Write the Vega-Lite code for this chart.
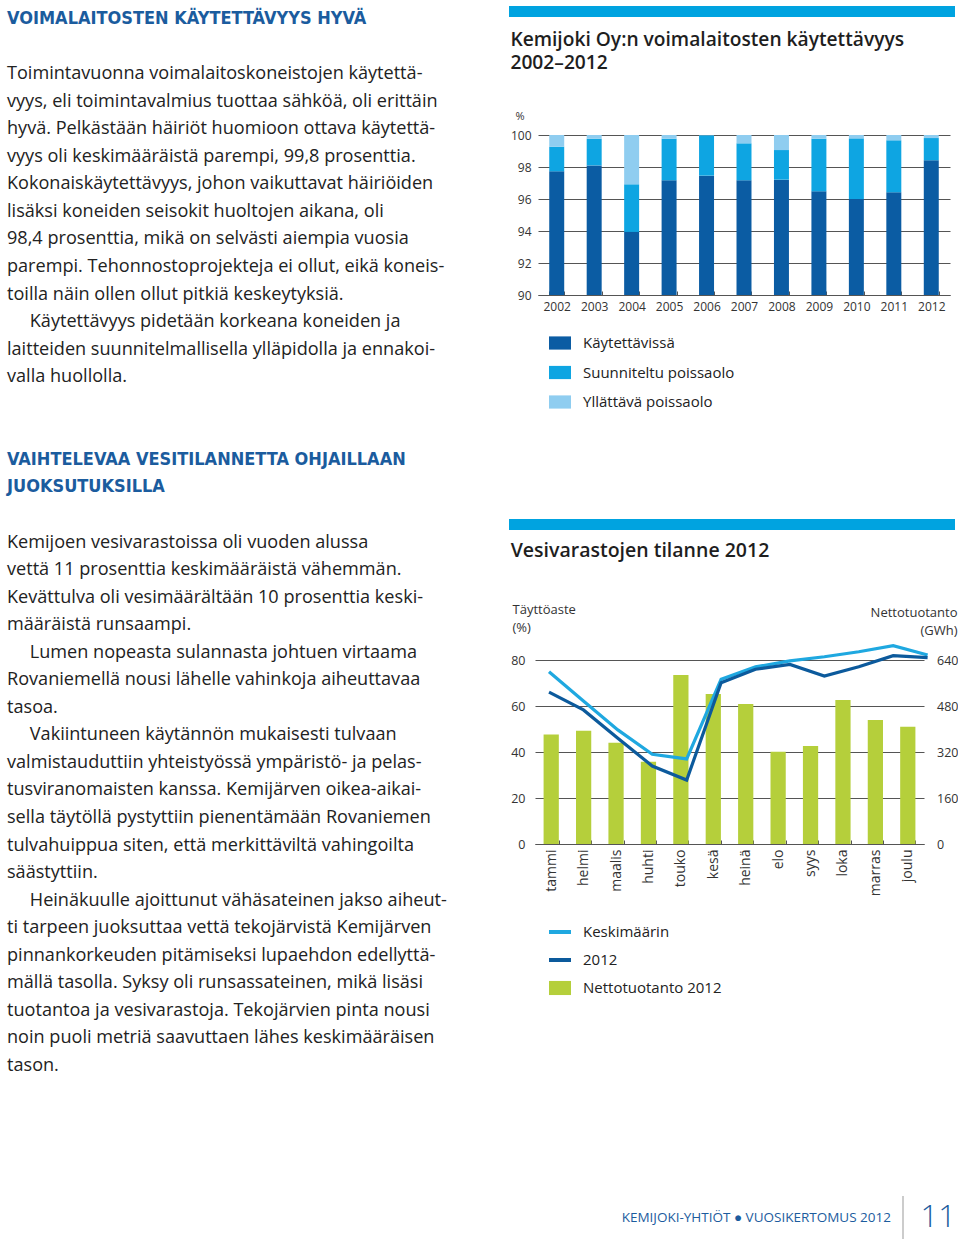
{
  "$schema": "https://vega.github.io/schema/vega-lite/v6.json",
  "background": "white",
  "padding": {"left": 7, "top": 6, "right": 0, "bottom": 0},
  "config": {
    "font": "Open Sans",
    "view": {"stroke": null},
    "axis": {"labelFont": "Open Sans", "titleFont": "Open Sans", "labelColor": "#333", "titleColor": "#333"},
    "legend": {"labelFont": "Open Sans"},
    "title": {"font": "Open Sans", "color": "#1e1e1e"},
    "text": {"font": "Open Sans"}
  },
  "datasets": {
    "text": [
      {"line": 0, "role": "heading", "text": "VOIMALAITOSTEN KÄYTETTÄVYYS HYVÄ"},
      {"line": 2, "role": "body", "text": "Toimintavuonna voimalaitoskoneistojen käytettä-"},
      {"line": 3, "role": "body", "text": "vyys, eli toimintavalmius tuottaa sähköä, oli erittäin"},
      {"line": 4, "role": "body", "text": "hyvä. Pelkästään häiriöt huomioon ottava käytettä-"},
      {"line": 5, "role": "body", "text": "vyys oli keskimääräistä parempi, 99,8 prosenttia."},
      {"line": 6, "role": "body", "text": "Kokonaiskäytettävyys, johon vaikuttavat häiriöiden"},
      {"line": 7, "role": "body", "text": "lisäksi koneiden seisokit huoltojen aikana, oli"},
      {"line": 8, "role": "body", "text": "98,4 prosenttia, mikä on selvästi aiempia vuosia"},
      {"line": 9, "role": "body", "text": "parempi. Tehonnostoprojekteja ei ollut, eikä koneis-"},
      {"line": 10, "role": "body", "text": "toilla näin ollen ollut pitkiä keskeytyksiä."},
      {"line": 11, "role": "body", "text": "\u200d\u2003\u00a0Käytettävyys pidetään korkeana koneiden ja"},
      {"line": 12, "role": "body", "text": "laitteiden suunnitelmallisella ylläpidolla ja ennakoi-"},
      {"line": 13, "role": "body", "text": "valla huollolla."},
      {"line": 16, "role": "heading", "text": "VAIHTELEVAA VESITILANNETTA OHJAILLAAN"},
      {"line": 17, "role": "heading", "text": "JUOKSUTUKSILLA"},
      {"line": 19, "role": "body", "text": "Kemijoen vesivarastoissa oli vuoden alussa"},
      {"line": 20, "role": "body", "text": "vettä 11 prosenttia keskimääräistä vähemmän."},
      {"line": 21, "role": "body", "text": "Kevättulva oli vesimäärältään 10 prosenttia keski-"},
      {"line": 22, "role": "body", "text": "määräistä runsaampi."},
      {"line": 23, "role": "body", "text": "\u200d\u2003\u00a0Lumen nopeasta sulannasta johtuen virtaama"},
      {"line": 24, "role": "body", "text": "Rovaniemellä nousi lähelle vahinkoja aiheuttavaa"},
      {"line": 25, "role": "body", "text": "tasoa."},
      {"line": 26, "role": "body", "text": "\u200d\u2003\u00a0Vakiintuneen käytännön mukaisesti tulvaan"},
      {"line": 27, "role": "body", "text": "valmistauduttiin yhteistyössä ympäristö- ja pelas-"},
      {"line": 28, "role": "body", "text": "tusviranomaisten kanssa. Kemijärven oikea-aikai-"},
      {"line": 29, "role": "body", "text": "sella täytöllä pystyttiin pienentämään Rovaniemen"},
      {"line": 30, "role": "body", "text": "tulvahuippua siten, että merkittäviltä vahingoilta"},
      {"line": 31, "role": "body", "text": "säästyttiin."},
      {"line": 32, "role": "body", "text": "\u200d\u2003\u00a0Heinäkuulle ajoittunut vähäsateinen jakso aiheut-"},
      {"line": 33, "role": "body", "text": "ti tarpeen juoksuttaa vettä tekojärvistä Kemijärven"},
      {"line": 34, "role": "body", "text": "pinnankorkeuden pitämiseksi lupaehdon edellyttä-"},
      {"line": 35, "role": "body", "text": "mällä tasolla. Syksy oli runsassateinen, mikä lisäsi"},
      {"line": 36, "role": "body", "text": "tuotantoa ja vesivarastoja. Tekojärvien pinta nousi"},
      {"line": 37, "role": "body", "text": "noin puoli metriä saavuttaen lähes keskimääräisen"},
      {"line": 38, "role": "body", "text": "tason."}
    ],
    "availability": [
      {"year": "2002", "state": "Käytettävissä", "share": 97.73},
      {"year": "2002", "state": "Suunniteltu poissaolo", "share": 1.54},
      {"year": "2002", "state": "Yllättävä poissaolo", "share": 0.73},
      {"year": "2003", "state": "Käytettävissä", "share": 98.10},
      {"year": "2003", "state": "Suunniteltu poissaolo", "share": 1.67},
      {"year": "2003", "state": "Yllättävä poissaolo", "share": 0.23},
      {"year": "2004", "state": "Käytettävissä", "share": 93.94},
      {"year": "2004", "state": "Suunniteltu poissaolo", "share": 2.98},
      {"year": "2004", "state": "Yllättävä poissaolo", "share": 3.08},
      {"year": "2005", "state": "Käytettävissä", "share": 97.17},
      {"year": "2005", "state": "Suunniteltu poissaolo", "share": 2.60},
      {"year": "2005", "state": "Yllättävä poissaolo", "share": 0.23},
      {"year": "2006", "state": "Käytettävissä", "share": 97.46},
      {"year": "2006", "state": "Suunniteltu poissaolo", "share": 2.52},
      {"year": "2006", "state": "Yllättävä poissaolo", "share": 0.02},
      {"year": "2007", "state": "Käytettävissä", "share": 97.17},
      {"year": "2007", "state": "Suunniteltu poissaolo", "share": 2.31},
      {"year": "2007", "state": "Yllättävä poissaolo", "share": 0.52},
      {"year": "2008", "state": "Käytettävissä", "share": 97.21},
      {"year": "2008", "state": "Suunniteltu poissaolo", "share": 1.85},
      {"year": "2008", "state": "Yllättävä poissaolo", "share": 0.94},
      {"year": "2009", "state": "Käytettävissä", "share": 96.48},
      {"year": "2009", "state": "Suunniteltu poissaolo", "share": 3.29},
      {"year": "2009", "state": "Yllättävä poissaolo", "share": 0.23},
      {"year": "2010", "state": "Käytettävissä", "share": 96.00},
      {"year": "2010", "state": "Suunniteltu poissaolo", "share": 3.79},
      {"year": "2010", "state": "Yllättävä poissaolo", "share": 0.21},
      {"year": "2011", "state": "Käytettävissä", "share": 96.42},
      {"year": "2011", "state": "Suunniteltu poissaolo", "share": 3.25},
      {"year": "2011", "state": "Yllättävä poissaolo", "share": 0.33},
      {"year": "2012", "state": "Käytettävissä", "share": 98.42},
      {"year": "2012", "state": "Suunniteltu poissaolo", "share": 1.39},
      {"year": "2012", "state": "Yllättävä poissaolo", "share": 0.19}
    ],
    "production": [
      {"month": "tammi", "series": "Nettotuotanto 2012", "gwh": 381},
      {"month": "helmi", "series": "Nettotuotanto 2012", "gwh": 394},
      {"month": "maalis", "series": "Nettotuotanto 2012", "gwh": 352},
      {"month": "huhti", "series": "Nettotuotanto 2012", "gwh": 286},
      {"month": "touko", "series": "Nettotuotanto 2012", "gwh": 588},
      {"month": "kesä", "series": "Nettotuotanto 2012", "gwh": 522},
      {"month": "heinä", "series": "Nettotuotanto 2012", "gwh": 487},
      {"month": "elo", "series": "Nettotuotanto 2012", "gwh": 321},
      {"month": "syys", "series": "Nettotuotanto 2012", "gwh": 341},
      {"month": "loka", "series": "Nettotuotanto 2012", "gwh": 501},
      {"month": "marras", "series": "Nettotuotanto 2012", "gwh": 431},
      {"month": "joulu", "series": "Nettotuotanto 2012", "gwh": 408}
    ],
    "reservoir": [
      {"month": "tammi", "m": 1, "series": "Keskimäärin", "fill": 74.9},
      {"month": "helmi", "m": 2, "series": "Keskimäärin", "fill": 62.2},
      {"month": "maalis", "m": 3, "series": "Keskimäärin", "fill": 49.6},
      {"month": "huhti", "m": 4, "series": "Keskimäärin", "fill": 39.0},
      {"month": "touko", "m": 5, "series": "Keskimäärin", "fill": 37.0},
      {"month": "kesä", "m": 6, "series": "Keskimäärin", "fill": 71.6},
      {"month": "heinä", "m": 7, "series": "Keskimäärin", "fill": 77.0},
      {"month": "elo", "m": 8, "series": "Keskimäärin", "fill": 79.6},
      {"month": "syys", "m": 9, "series": "Keskimäärin", "fill": 81.4},
      {"month": "loka", "m": 10, "series": "Keskimäärin", "fill": 83.6},
      {"month": "marras", "m": 11, "series": "Keskimäärin", "fill": 86.2},
      {"month": "joulu", "m": 12, "series": "Keskimäärin", "fill": 82.2},
      {"month": "tammi", "m": 1, "series": "2012", "fill": 66.0},
      {"month": "helmi", "m": 2, "series": "2012", "fill": 58.3},
      {"month": "maalis", "m": 3, "series": "2012", "fill": 46.0},
      {"month": "huhti", "m": 4, "series": "2012", "fill": 33.9},
      {"month": "touko", "m": 5, "series": "2012", "fill": 27.8},
      {"month": "kesä", "m": 6, "series": "2012", "fill": 70.1},
      {"month": "heinä", "m": 7, "series": "2012", "fill": 76.0},
      {"month": "elo", "m": 8, "series": "2012", "fill": 78.1},
      {"month": "syys", "m": 9, "series": "2012", "fill": 73.0},
      {"month": "loka", "m": 10, "series": "2012", "fill": 77.1},
      {"month": "marras", "m": 11, "series": "2012", "fill": 81.9},
      {"month": "joulu", "m": 12, "series": "2012", "fill": 81.0}
    ],
    "footer": [
      {"part": "publisher", "text": "KEMIJOKI-YHTIÖT ● VUOSIKERTOMUS 2012"},
      {"part": "page", "text": "11"}
    ]
  },
  "spacing": 22,
  "resolve": {"scale": {"color": "independent"}, "legend": {"color": "independent"}},
  "hconcat": [
    {
      "width": 480,
      "height": 1073,
      "data": {"name": "text"},
      "encoding": {
        "x": {"datum": 0, "type": "quantitative", "scale": {"domain": [0, 1]}, "axis": null},
        "y": {"field": "line", "type": "quantitative", "scale": {"domain": [-0.47, 38.47], "reverse": true, "nice": false, "zero": false}, "axis": null},
        "text": {"field": "text"}
      },
      "layer": [
        {
          "transform": [{"filter": "datum.role === 'heading'"}],
          "mark": {"type": "text", "align": "left", "baseline": "middle", "font": "DejaVu Sans Condensed, Roboto", "fontWeight": "bold", "fontSize": 18, "color": "#1b5c9e"}
        },
        {
          "transform": [{"filter": "datum.role === 'body'"}],
          "mark": {"type": "text", "align": "left", "baseline": "middle", "fontSize": 18.1, "color": "#222"}
        }
      ]
    },
    {
      "spacing": 109,
      "resolve": {"scale": {"color": "independent"}, "legend": {"color": "independent"}},
      "vconcat": [
        {
          "spacing": 13,
          "resolve": {"scale": {"color": "independent"}, "legend": {"color": "independent"}},
          "vconcat": [
            {
              "width": 446,
              "height": 11,
              "data": {"values": [{"band": "Kemijoki Oy:n voimalaitosten käytettävyys"}]},
              "mark": {"type": "rect", "color": "#00a3e0"},
              "encoding": {}
            },
            {
              "spacing": 0,
              "resolve": {"scale": {"color": "independent"}, "legend": {"color": "independent"}},
              "hconcat": [
                {"width": 0.01, "height": 0.01, "data": {"values": []}, "mark": {"type": "point"}},
                {
                  "width": 412,
                  "height": 160,
                  "title": {"text": ["Kemijoki Oy:n voimalaitosten käytettävyys", "2002–2012"], "anchor": "start", "fontSize": 19.2, "fontWeight": 600, "lineHeight": 23, "offset": 37},
                  "data": {"name": "availability"},
                  "mark": {"type": "bar", "clip": true},
                  "encoding": {
                    "x": {
                      "field": "year", "type": "ordinal",
                      "scale": {"paddingInner": 0.6, "paddingOuter": 0.3},
                      "axis": {"title": null, "labelAngle": 0, "labelFontSize": 12, "labelPadding": 10, "domainColor": "#555", "tickColor": "#555", "tickBand": "extent", "tickSize": -4}
                    },
                    "y": {
                      "field": "share", "type": "quantitative", "stack": "zero",
                      "scale": {"domain": [90, 100], "nice": false, "zero": false},
                      "axis": {"title": "%", "values": [90, 92, 94, 96, 98, 100], "grid": true, "gridColor": "#555", "domain": false, "ticks": false, "labelPadding": 7, "labelFontSize": 12, "titleAngle": 0, "titleAlign": "left", "titleBaseline": "bottom", "titleX": -23, "titleY": -14, "titleFontSize": 11, "titleFontWeight": "normal"}
                    },
                    "order": {"field": "state", "type": "ordinal", "sort": "ascending"},
                    "color": {
                      "field": "state", "type": "nominal",
                      "scale": {"domain": ["Käytettävissä", "Suunniteltu poissaolo", "Yllättävä poissaolo"], "range": ["#0b5ca3", "#0ea5e2", "#8fcdf0"]},
                      "legend": {"title": null, "orient": "none", "direction": "vertical", "legendX": 11, "legendY": 197, "padding": 0, "symbolType": "M-1,-0.6H1V0.6H-1Z", "symbolSize": 484, "symbolStrokeWidth": 0, "labelFontSize": 15, "labelColor": "#222", "labelOffset": 12, "rowPadding": 10.5}
                    }
                  }
                }
              ]
            }
          ]
        },
        {
          "spacing": 199,
          "resolve": {"scale": {"color": "independent"}, "legend": {"color": "independent"}},
          "vconcat": [
            {
              "spacing": 10,
              "resolve": {"scale": {"color": "independent"}, "legend": {"color": "independent"}},
              "vconcat": [
                {
                  "width": 446,
                  "height": 11,
                  "data": {"values": [{"band": "Vesivarastojen tilanne 2012"}]},
                  "mark": {"type": "rect", "color": "#00a3e0"},
                  "encoding": {}
                },
                {
                  "spacing": 0,
                  "resolve": {"scale": {"color": "independent"}, "legend": {"color": "independent"}},
                  "hconcat": [
                    {"width": 0.01, "height": 0.01, "data": {"values": []}, "mark": {"type": "point"}},
                    {
                      "width": 389,
                      "height": 184,
                      "title": {"text": "Vesivarastojen tilanne 2012", "anchor": "start", "fontSize": 19.5, "fontWeight": 600, "offset": 42},
                      "resolve": {"scale": {"x": "independent", "y": "independent"}},
                      "layer": [
                        {
                          "data": {"name": "production"},
                          "mark": {"type": "bar"},
                          "encoding": {
                            "x": {
                              "field": "month", "type": "nominal",
                              "sort": ["tammi", "helmi", "maalis", "huhti", "touko", "kesä", "heinä", "elo", "syys", "loka", "marras", "joulu"],
                              "scale": {"paddingInner": 0.53, "paddingOuter": 0.265},
                              "axis": {"title": null, "labelAngle": -90, "labelFontSize": 14, "labelPadding": 9, "domainColor": "#555", "tickColor": "#555", "tickBand": "extent", "tickSize": -4}
                            },
                            "y": {
                              "field": "gwh", "type": "quantitative",
                              "scale": {"domain": [0, 640], "nice": false},
                              "axis": {"orient": "right", "title": ["Nettotuotanto", "(GWh)"], "values": [0, 160, 320, 480, 640], "grid": false, "domain": false, "ticks": false, "labelPadding": 12.5, "labelFontSize": 12.5, "titleAngle": 0, "titleAlign": "right", "titleBaseline": "alphabetic", "titleX": 33, "titleY": -44, "titleFontSize": 13, "titleFontWeight": "normal", "titleLineHeight": 18}
                            },
                            "color": {
                              "field": "series", "type": "nominal",
                              "scale": {"domain": ["Keskimäärin", "2012", "Nettotuotanto 2012"], "range": ["#1fa8e0", "#0c5a9c", "#b5cf3b"]},
                              "legend": {
                                "title": null, "orient": "none", "direction": "vertical", "legendX": 14, "legendY": 261, "padding": 0,
                                "symbolSize": 484, "symbolStrokeWidth": 0, "labelFontSize": 15, "labelColor": "#222", "labelOffset": 12, "rowPadding": 9,
                                "encode": {"symbols": {"update": {
                                  "shape": {"signal": "datum.value === 'Nettotuotanto 2012' ? 'M-1,-0.64H1V0.64H-1Z' : 'M-1,-0.18H1V0.18H-1Z'"},
                                  "fill": {"scale": "color", "field": "value"},
                                  "stroke": {"value": "transparent"},
                                  "opacity": {"value": 1},
                                  "fillOpacity": {"value": 1}
                                }}}
                              }
                            }
                          }
                        },
                        {
                          "data": {"name": "reservoir"},
                          "mark": {"type": "line", "strokeWidth": 3.2, "clip": false},
                          "encoding": {
                            "x": {"field": "m", "type": "quantitative", "scale": {"domain": [0.593, 11.895], "nice": false, "zero": false}, "axis": null},
                            "y": {
                              "field": "fill", "type": "quantitative",
                              "scale": {"domain": [0, 80], "nice": false},
                              "axis": {"orient": "left", "title": ["Täyttöaste", "(%)"], "values": [0, 20, 40, 60, 80], "grid": true, "gridColor": "#555", "domain": false, "ticks": false, "labelPadding": 10, "labelFontSize": 12.5, "titleAngle": 0, "titleAlign": "left", "titleBaseline": "alphabetic", "titleX": -23, "titleY": -47, "titleFontSize": 13, "titleFontWeight": "normal", "titleLineHeight": 18}
                            },
                            "color": {"field": "series", "type": "nominal"}
                          }
                        }
                      ]
                    }
                  ]
                }
              ]
            },
            {
              "spacing": 0,
              "hconcat": [
                {
                  "width": 394,
                  "height": 43,
                  "data": {"name": "footer"},
                  "transform": [{"filter": "datum.part === 'publisher'"}],
                  "encoding": {
                    "x": {"field": "part", "type": "nominal", "scale": {"type": "point", "padding": 0, "align": 1}, "axis": null}
                  },
                  "layer": [
                    {"mark": {"type": "rule", "color": "#999", "strokeWidth": 1}, "encoding": {}},
                    {"mark": {"type": "text", "align": "right", "baseline": "middle", "dx": -12, "fontSize": 13.5, "color": "#1c5c9e"}, "encoding": {"text": {"field": "text"}}}
                  ]
                },
                {
                  "width": 52,
                  "height": 43,
                  "data": {"name": "footer"},
                  "transform": [{"filter": "datum.part === 'page'"}],
                  "mark": {"type": "text", "align": "right", "baseline": "middle", "fontSize": 31, "fontWeight": 300, "color": "#1c5c9e"},
                  "encoding": {
                    "x": {"field": "part", "type": "nominal", "scale": {"type": "point", "padding": 0, "align": 1}, "axis": null},
                    "text": {"field": "text"}
                  }
                }
              ]
            }
          ]
        }
      ]
    }
  ]
}
